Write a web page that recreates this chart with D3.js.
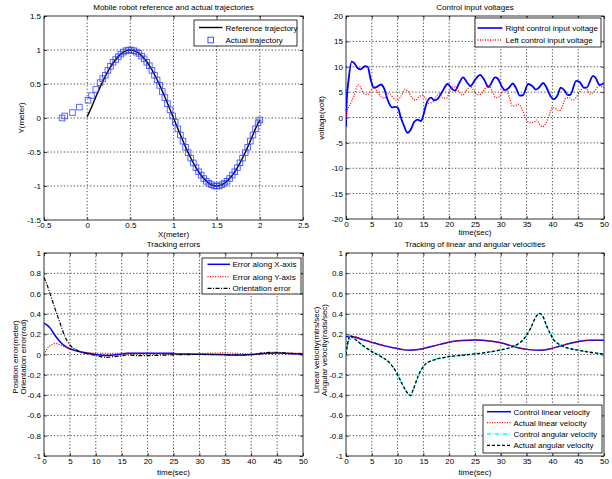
<!DOCTYPE html>
<html><head><meta charset="utf-8">
<script src="https://cdn.jsdelivr.net/npm/d3@7"></script>
<style>
body{margin:0;background:#fff}
text{font-family:"Liberation Sans",Arial,Helvetica,sans-serif;font-size:8px;fill:#000}
</style>
</head><body>
<svg id="c" width="612" height="479"></svg>
<script>
// ---------- DATA ----------
const trajXTicks = [-0.5,0,0.5,1,1.5,2,2.5];
const trajYTicks = [-1.5,-1,-0.5,0,0.5,1,1.5];
const timeTicks = [0,5,10,15,20,25,30,35,40,45,50];
const voltTicks = [-20,-15,-10,-5,0,5,10,15,20];
const unitTicks = [-1,-0.8,-0.6,-0.4,-0.2,0,0.2,0.4,0.6,0.8,1];

const refTrajectory = [[0,0.02],[0.05,0.156],[0.1,0.309],[0.15,0.454],[0.2,0.588],[0.25,0.707],[0.3,0.809],[0.35,0.891],[0.4,0.951],[0.45,0.988],[0.5,1],[0.55,0.988],[0.6,0.951],[0.65,0.891],[0.7,0.809],[0.75,0.707],[0.8,0.588],[0.85,0.454],[0.9,0.309],[0.95,0.156],[1,0],[1.05,-0.156],[1.1,-0.309],[1.15,-0.454],[1.2,-0.588],[1.25,-0.707],[1.3,-0.809],[1.35,-0.891],[1.4,-0.951],[1.45,-0.988],[1.5,-1],[1.55,-0.988],[1.6,-0.951],[1.65,-0.891],[1.7,-0.809],[1.75,-0.707],[1.8,-0.588],[1.85,-0.454],[1.9,-0.309],[1.95,-0.156],[2,-0.03]];

const actualTrajectory = [[-0.29,0.00],[-0.26,0.03],[-0.17,0.08],[-0.09,0.16],[0.01,0.26],[0.05,0.33],[0.10,0.42],[0.15,0.52],[0.18,0.58],[0.21,0.63],[0.24,0.70],[0.27,0.76],[0.30,0.82],[0.33,0.86],[0.36,0.90],[0.39,0.94],[0.42,0.97],[0.45,0.99],[0.48,1.00],[0.51,1.00],[0.54,0.99],[0.57,0.97],[0.60,0.95],[0.63,0.91],[0.66,0.87],[0.69,0.82],[0.72,0.77],[0.75,0.70],[0.78,0.63],[0.81,0.56],[0.84,0.48],[0.87,0.39],[0.90,0.30],[0.93,0.21],[0.96,0.12],[0.99,0.03],[1.02,-0.06],[1.05,-0.16],[1.08,-0.25],[1.11,-0.34],[1.14,-0.43],[1.17,-0.51],[1.20,-0.59],[1.23,-0.66],[1.26,-0.73],[1.29,-0.79],[1.32,-0.84],[1.35,-0.89],[1.38,-0.93],[1.41,-0.96],[1.44,-0.98],[1.47,-1.00],[1.50,-1.00],[1.53,-1.00],[1.56,-0.98],[1.59,-0.96],[1.62,-0.93],[1.65,-0.89],[1.68,-0.84],[1.71,-0.79],[1.74,-0.73],[1.77,-0.66],[1.80,-0.59],[1.83,-0.51],[1.86,-0.43],[1.89,-0.34],[1.92,-0.25],[1.95,-0.16],[1.98,-0.07],[2.00,-0.03]];

const rightVoltage = [[0,-1.8],[0.15,3.5],[0.5,7.4],[1.1,11],[1.6,10.7],[2.3,9.7],[2.8,9.5],[3.7,10.1],[4.2,10],[4.8,7.4],[5.4,5.9],[5.9,6],[6.8,6.5],[7.4,5.7],[8.1,3.4],[8.9,2],[9.7,2.1],[10.1,1.8],[10.6,0.1],[11.3,-1.8],[11.9,-3],[12.5,-2.5],[13.2,-0.9],[13.9,-0.4],[14.5,-0.7],[15,0.5],[15.6,2.8],[16.5,3.9],[17.1,3.4],[17.7,3.6],[18.6,5],[19.7,6.6],[20.5,5.7],[21.1,5.3],[21.9,6.7],[22.7,7.9],[23.4,7],[24.1,6.2],[25,7.4],[26,8.4],[26.8,7.4],[27.6,6],[28.9,7.9],[29.4,7.7],[30.3,5.9],[30.8,5.4],[31.6,5.9],[32.3,6.7],[32.9,5.9],[33.7,4.3],[34.3,4.4],[35.3,6.6],[36.1,6.2],[36.8,5.5],[37.4,5.9],[38.2,6.8],[38.8,6],[39.7,4.1],[40.3,3.6],[41,4.4],[41.6,5.9],[42.3,5.4],[43,4.4],[43.5,4.5],[44.6,7.2],[45.3,7],[46.1,5.9],[46.6,5.9],[47.9,8.2],[48.3,7.9],[49.2,6.4],[50,6.8]];

const leftVoltage = [[0,-0.5],[0.15,1.4],[0.6,2.2],[1.6,4.4],[2.3,6.4],[2.8,6],[3.5,4.7],[4.1,4.5],[4.8,5.3],[5.4,5.9],[5.8,5.5],[6.8,4.1],[7.4,3.8],[8.2,4.7],[8.6,4.5],[9.4,3.6],[10,3.4],[10.6,4.1],[11.5,5.6],[11.9,5.3],[12.9,3.8],[13.5,3.4],[14.2,4.1],[14.8,4.4],[15.5,3.6],[16.1,2.8],[16.8,3.1],[17.5,4.2],[18.1,4.7],[18.8,3.8],[19.5,3.8],[20.1,5.1],[20.9,6.1],[21.9,5.1],[22.6,4.4],[23.2,5.1],[24.1,6.2],[24.5,5.7],[25.5,4.5],[26.1,4.6],[27.1,5.9],[27.6,6.3],[28.4,5.1],[29,3.9],[29.7,4.1],[30.6,5.4],[31,5.5],[31.7,3.8],[32.3,2.2],[32.9,2.4],[33.5,2.6],[34.2,1.4],[34.8,-0.2],[35.6,-1],[36.5,-0.9],[37,-0.5],[37.4,-1.2],[38.1,-1.8],[38.7,-1.2],[39.4,0.5],[40,2],[40.5,1.8],[41.3,1.3],[41.9,2.1],[42.6,3.8],[43.2,3.9],[43.9,3.4],[44.5,3.8],[45.3,5.1],[46.1,5.9],[46.8,5.4],[47.4,4.6],[48.2,5.3],[49,6.2],[50,5.9]];

const errorX = [[0,0.31],[0.6,0.29],[1.2,0.26],[2.1,0.19],[3.1,0.126],[4.4,0.07],[5.7,0.044],[7.6,0.02],[9.5,0.005],[12.1,-0.01],[14.7,0.003],[16,0.012],[20,0.012],[25,0.012],[25.5,0.005],[30,0.003],[34,0],[37,-0.006],[40,0],[42,0.008],[45,0.015],[47,0.01],[50,0.005]];
const errorY = [[0,0.0],[0.4,0.04],[0.8,0.07],[1.5,0.095],[2.2,0.11],[3.1,0.095],[4.4,0.07],[6.3,0.04],[8.9,0.015],[12,0.01],[20,0.01],[25,0.005],[30,0.01],[35,0.015],[40,0.005],[45,0.015],[50,0.012]];
const errorTheta = [[0,0.76],[0.5,0.7],[1.16,0.6],[2.1,0.455],[3.1,0.31],[4.05,0.175],[5,0.094],[6.3,0.044],[7.6,0.018],[9.5,-0.005],[10.8,-0.02],[12.1,-0.028],[13.5,-0.02],[14.7,-0.015],[16,-0.005],[18.5,-0.012],[22,-0.008],[25,-0.003],[30,0],[35,-0.003],[38,-0.005],[40.5,0],[42.5,0.018],[44.5,0.022],[47.5,0.012],[50,0.003]];

const linVelControl = [[0,0.175],[0.8,0.18],[3,0.15],[5.3,0.116],[7.5,0.085],[9.2,0.066],[11,0.048],[12.4,0.043],[14,0.05],[15.6,0.066],[17.5,0.09],[19.5,0.116],[21,0.13],[22.7,0.139],[25,0.142],[27.8,0.134],[30,0.115],[31.8,0.09],[33.5,0.065],[35.5,0.048],[37.6,0.043],[39.5,0.055],[41.5,0.083],[43.5,0.11],[45.3,0.13],[47.5,0.14],[50,0.14]];
const linVelActual = [[0,0.08],[0.5,0.13],[1,0.16],[1.6,0.178],[3,0.152],[5.3,0.118],[7.5,0.087],[9.2,0.067],[11,0.049],[12.4,0.044],[14,0.05],[15.6,0.067],[17.5,0.091],[19.5,0.117],[21,0.131],[22.7,0.14],[25,0.143],[27.8,0.135],[30,0.116],[31.8,0.091],[33.5,0.066],[35.5,0.049],[37.6,0.044],[39.5,0.056],[41.5,0.084],[43.5,0.111],[45.3,0.131],[47.5,0.141],[50,0.141]];
const angVelControl = [[0,0.0],[0.3,0.1],[0.8,0.185],[2,0.14],[3.5,0.08],[5.3,0.02],[7.2,-0.033],[8.3,-0.075],[9.2,-0.13],[10.5,-0.25],[11.4,-0.34],[12.2,-0.395],[12.5,-0.405],[13,-0.35],[14,-0.21],[15.3,-0.1],[16.9,-0.056],[19.5,-0.025],[23.4,-0.003],[27.8,0.025],[30,0.045],[32.4,0.08],[34.4,0.15],[35.7,0.25],[36.8,0.37],[37.5,0.405],[38.2,0.37],[38.9,0.28],[40.2,0.15],[42.1,0.08],[44.7,0.045],[47.3,0.022],[50,0.005]];
const angVelActual = [[0,0.0],[0.3,0.1],[0.8,0.185],[2,0.14],[3.5,0.08],[5.3,0.02],[7.2,-0.033],[8.3,-0.075],[9.2,-0.13],[10.5,-0.25],[11.4,-0.34],[12.2,-0.395],[12.5,-0.405],[13,-0.35],[14,-0.21],[15.3,-0.1],[16.9,-0.056],[19.5,-0.025],[23.4,-0.003],[27.8,0.025],[30,0.045],[32.4,0.08],[34.4,0.15],[35.7,0.25],[36.8,0.37],[37.5,0.405],[38.2,0.37],[38.9,0.28],[40.2,0.15],[42.1,0.08],[44.7,0.045],[47.3,0.022],[50,0.005]];

// ---------- DRAWING ----------
const svg = d3.select("#c");
svg.append("rect").attr("width",612).attr("height",479).attr("fill","#fff");

let clipId = 0;
function panel(o){
  const x = d3.scaleLinear().domain(o.xd).range([o.l,o.r]);
  const y = d3.scaleLinear().domain(o.yd).range([o.b,o.t]);
  const g = svg.append("g");
  g.append("rect").attr("x",o.l).attr("y",o.t).attr("width",o.r-o.l).attr("height",o.b-o.t).attr("fill","#fff");
  const grid = g.append("g").attr("stroke","#111").attr("stroke-width",0.75).attr("stroke-dasharray","1.3,2");
  grid.selectAll("line.gx").data(o.xt.filter(d=>d>o.xd[0]&&d<o.xd[1])).join("line")
    .attr("x1",d=>x(d)).attr("x2",d=>x(d)).attr("y1",o.t).attr("y2",o.b);
  grid.selectAll("line.gy").data(o.yt.filter(d=>d>o.yd[0]&&d<o.yd[1])).join("line").attr("class","gy")
    .attr("y1",d=>y(d)).attr("y2",d=>y(d)).attr("x1",o.l).attr("x2",o.r);
  const fmt = d=>String(d);
  const ax = [
    [d3.axisBottom(x).tickValues(o.xt).tickSize(-3).tickPadding(2.5).tickFormat(fmt), `translate(0,${o.b})`],
    [d3.axisTop(x).tickValues(o.xt).tickSize(-3).tickFormat(""), `translate(0,${o.t})`],
    [d3.axisLeft(y).tickValues(o.yt).tickSize(-3).tickPadding(3).tickFormat(fmt), `translate(${o.l},0)`],
    [d3.axisRight(y).tickValues(o.yt).tickSize(-3).tickFormat(""), `translate(${o.r},0)`]
  ];
  ax.forEach(([a,tr])=>{
    const ag = g.append("g").attr("transform",tr).call(a);
    ag.select(".domain").remove();
    ag.selectAll("line").attr("stroke","#000").attr("stroke-width",0.7);
    ag.attr("font-size",null).attr("font-family",null);
    ag.selectAll("text").attr("fill","#000");
  });
  g.append("rect").attr("x",o.l).attr("y",o.t).attr("width",o.r-o.l).attr("height",o.b-o.t)
    .attr("fill","none").attr("stroke","#000").attr("stroke-width",0.8);
  const id = "clip"+(clipId++);
  svg.append("clipPath").attr("id",id).append("rect").attr("x",o.l).attr("y",o.t).attr("width",o.r-o.l).attr("height",o.b-o.t);
  const plot = svg.append("g").attr("clip-path",`url(#${id})`);
  svg.append("text").attr("x",(o.l+o.r)/2).attr("y",o.titleY).attr("text-anchor","middle").text(o.title);
  svg.append("text").attr("x",(o.l+o.r)/2).attr("y",o.xlabY).attr("text-anchor","middle").text(o.xlab);
  o.ylabs.forEach(([lab,cx])=>{
    svg.append("text").attr("transform",`translate(${cx},${o.ylabCY}) rotate(-90)`).attr("text-anchor","middle").text(lab);
  });
  return {x,y,plot};
}

function drawLine(p, data, style){
  const line = d3.line().x(d=>p.x(d[0])).y(d=>p.y(d[1])).curve(d3.curveMonotoneX);
  p.plot.append("path").datum(data).attr("d",line).attr("fill","none")
    .attr("stroke",style.c).attr("stroke-width",style.w)
    .attr("stroke-dasharray",style.dash||null).attr("stroke-linejoin","round");
}

function legend(box, entries){
  const g = svg.append("g");
  g.append("rect").attr("x",box.x).attr("y",box.y).attr("width",box.w).attr("height",box.h)
    .attr("fill","#fff").attr("stroke","#000").attr("stroke-width",0.8);
  entries.forEach((e,i)=>{
    const yy = box.rows[i];
    if(e.marker){
      g.append("rect").attr("x",(box.l1+box.l2)/2-2.8).attr("y",yy-2.8).attr("width",5.6).attr("height",5.6)
        .attr("fill","none").attr("stroke",e.c).attr("stroke-width",0.9);
    } else {
      g.append("line").attr("x1",box.l1).attr("x2",box.l2).attr("y1",yy).attr("y2",yy)
        .attr("stroke",e.c).attr("stroke-width",e.w).attr("stroke-dasharray",e.dash||null);
    }
    g.append("text").attr("x",box.tx).attr("y",yy+3).text(e.label);
  });
}

const sBlue = {c:"#0000ff",w:1.5};
const sBlueThick = {c:"#0000ff",w:1.8};
const sRed = {c:"#ff0000",w:1.3,dash:"1,1.5"};
const sBlackDD = {c:"#000",w:1.2,dash:"4,1.5,1,1.5"};
const sCyan = {c:"#00ffff",w:1.4,dash:"4,1.5,1,1.5"};
const sBlackDash = {c:"#000",w:1.3,dash:"3,2"};

const p1 = panel({l:44,r:303,t:16,b:220,xd:[-0.5,2.5],yd:[-1.5,1.5],xt:trajXTicks,yt:trajYTicks,
  title:"Mobile robot reference and actual trajectories",titleY:9.5,xlab:"X(meter)",xlabY:237,
  ylabs:[["Y(meter)",24]],ylabCY:118});
drawLine(p1, refTrajectory, {c:"#000",w:1.4});
p1.plot.selectAll("rect.sq").data(actualTrajectory).join("rect").attr("class","sq")
  .attr("x",d=>p1.x(d[0])-2.8).attr("y",d=>p1.y(d[1])-2.8).attr("width",5.6).attr("height",5.6)
  .attr("fill","none").attr("stroke","#2a3cff").attr("stroke-width",0.9).attr("stroke-opacity",0.85);
legend({x:194,y:20,w:103,h:26,rows:[27.5,40],l1:199,l2:222.5,tx:225.5},
  [{label:"Reference trajectory",c:"#000",w:1.4},{label:"Actual trajectory",c:"#2a3cff",marker:true}]);

const p2 = panel({l:346,r:604,t:16,b:219,xd:[0,50],yd:[-20,20],xt:timeTicks,yt:voltTicks,
  title:"Control input voltages",titleY:9.5,xlab:"time(sec)",xlabY:235,
  ylabs:[["voltage(volt)",324]],ylabCY:118});
drawLine(p2, rightVoltage, sBlueThick);
drawLine(p2, leftVoltage, sRed);
legend({x:475,y:18,w:126,h:29,rows:[28,40],l1:477.5,l2:502.5,tx:505.5},
  [{label:"Right control input voltage",c:"#0000ff",w:1.6},{label:"Left control input voltage",c:"#ff0000",w:1.3,dash:"1,1.5"}]);

const p3 = panel({l:44,r:303,t:253,b:456,xd:[0,50],yd:[-1,1],xt:timeTicks,yt:unitTicks,
  title:"Tracking errors",titleY:247,xlab:"time(sec)",xlabY:475,
  ylabs:[["Position error(meter)",18],["Orientation error(rad)",26]],ylabCY:357});
drawLine(p3, errorX, sBlue);
drawLine(p3, errorY, sRed);
drawLine(p3, errorTheta, sBlackDD);
legend({x:202,y:258,w:99,h:36,rows:[264.3,276.7,288.3],l1:207.5,l2:230,tx:232.5},
  [{label:"Error along X-axis",c:"#0000ff",w:1.5},{label:"Error along Y-axis",c:"#ff0000",w:1.3,dash:"1,1.5"},
   {label:"Orientation error",c:"#000",w:1.2,dash:"4,1.5,1,1.5"}]);

const p4 = panel({l:346,r:604,t:253,b:456,xd:[0,50],yd:[-1,1],xt:timeTicks,yt:unitTicks,
  title:"Tracking of linear and angular velocities",titleY:247,xlab:"time(sec)",xlabY:475,
  ylabs:[["Linear velocity(mtrs/sec)",319],["Angular velocity(rads/sec)",327]],ylabCY:350});
drawLine(p4, linVelControl, sBlue);
drawLine(p4, linVelActual, sRed);
drawLine(p4, angVelControl, sCyan);
drawLine(p4, angVelActual, sBlackDash);
legend({x:483,y:405,w:119,h:48,rows:[411.7,422.7,434,445.3],l1:487,l2:511,tx:513.5},
  [{label:"Control linear velocity",c:"#0000ff",w:1.5},{label:"Actual linear velocity",c:"#ff0000",w:1.3,dash:"1,1.5"},
   {label:"Control angular velocity",c:"#00ffff",w:1.4,dash:"4,1.5,1,1.5"},{label:"Actual angular velocity",c:"#000",w:1.3,dash:"3,2"}]);
</script>
</body></html>
